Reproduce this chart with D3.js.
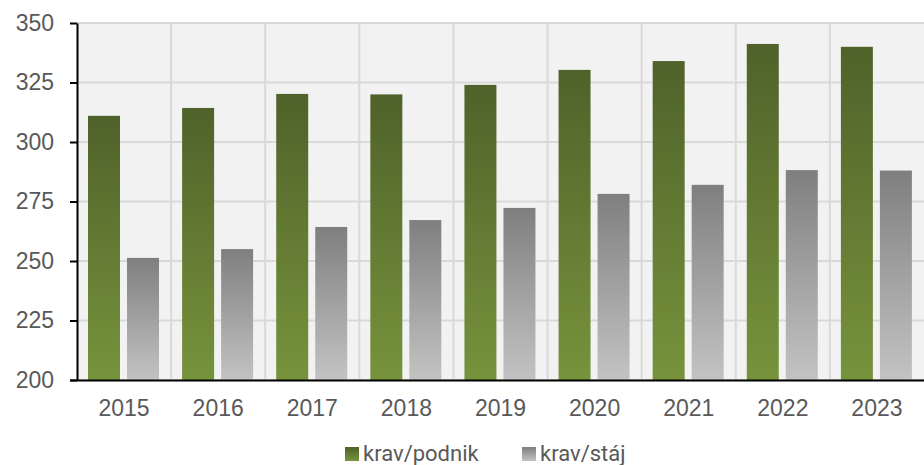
<!DOCTYPE html>
<html>
<head>
<meta charset="utf-8">
<script src="https://cdn.jsdelivr.net/npm/d3@7"></script>
<style>
  body { margin: 0; background: #fff; }
  svg { display: block; font-family: Roboto, "DejaVu Sans", sans-serif; }
</style>
</head>
<body>
<svg width="924" height="465"></svg>
<script>
var years = ["2015", "2016", "2017", "2018", "2019", "2020", "2021", "2022", "2023"];
var podnik = [311, 314.3, 320.2, 320, 324, 330.3, 334, 341.2, 340];
var staj = [251.3, 255, 264.3, 267.2, 272.3, 278.2, 282, 288.2, 288];
var seriesNames = ["krav/podnik", "krav/stáj"];
var yTicks = [200, 225, 250, 275, 300, 325, 350];

var svg = d3.select("svg"),
    margin = {top: 23, right: 0, bottom: 85, left: 77},
    width = +svg.attr("width") - margin.left - margin.right,
    height = +svg.attr("height") - margin.top - margin.bottom;

var defs = svg.append("defs");
function grad(id, top, bottom) {
  var g = defs.append("linearGradient").attr("id", id)
      .attr("x1", 0).attr("y1", 0).attr("x2", 0).attr("y2", 1);
  g.append("stop").attr("offset", "0%").attr("stop-color", top);
  g.append("stop").attr("offset", "100%").attr("stop-color", bottom);
}
grad("gGreen", "#4f622a", "#77933c");
grad("gGrey", "#7f7f7f", "#c3c3c3");

var x = d3.scaleBand().domain(years).range([0, width]);
var x1 = d3.scaleBand().domain(seriesNames).range([11, 82]).paddingInner(0.18);
var y = d3.scaleLinear().domain([200, 350]).range([height, 0]);

var g = svg.append("g").attr("transform", "translate(" + margin.left + "," + margin.top + ")");

g.append("rect").attr("width", width).attr("height", height).attr("fill", "#f2f2f2");

// grid
g.selectAll(".hgrid").data(yTicks).enter().append("line")
    .attr("x1", 0).attr("x2", width)
    .attr("y1", function(d) { return y(d); }).attr("y2", function(d) { return y(d); })
    .attr("stroke", "#d9d9d9").attr("stroke-width", 2);
g.selectAll(".vgrid").data(years.slice(1)).enter().append("line")
    .attr("x1", function(d) { return x(d); }).attr("x2", function(d) { return x(d); })
    .attr("y1", 0).attr("y2", height)
    .attr("stroke", "#d9d9d9").attr("stroke-width", 2);

var cat = g.selectAll(".cat").data(years).enter().append("g")
    .attr("transform", function(d) { return "translate(" + x(d) + ",0)"; });

cat.append("rect")
    .attr("x", x1(seriesNames[0])).attr("width", x1.bandwidth())
    .attr("y", function(d, i) { return y(podnik[i]); })
    .attr("height", function(d, i) { return height - y(podnik[i]); })
    .attr("fill", "url(#gGreen)");
cat.append("rect")
    .attr("x", x1(seriesNames[1])).attr("width", x1.bandwidth())
    .attr("y", function(d, i) { return y(staj[i]); })
    .attr("height", function(d, i) { return height - y(staj[i]); })
    .attr("fill", "url(#gGrey)");

// axes
var yAxis = g.append("g").call(d3.axisLeft(y).tickValues(yTicks).tickSize(7).tickPadding(16));
yAxis.select(".domain").attr("stroke", "#000").attr("stroke-width", 2).attr("d", "M0.5," + (height) + "V0.5");
yAxis.selectAll(".tick line").attr("stroke", "#000").attr("stroke-width", 2);
yAxis.selectAll("text").attr("fill", "#595959").style("font-size", "23px");

var xAxis = g.append("g").attr("transform", "translate(0," + height + ")")
    .call(d3.axisBottom(x).tickSize(0).tickPadding(20));
xAxis.select(".domain").attr("stroke", "#000").attr("stroke-width", 2).attr("d", "M-7,0.5H" + width);
xAxis.selectAll("text").attr("fill", "#595959").style("font-size", "23px");

// legend
var legend = svg.append("g").attr("transform", "translate(345,447)");
var li = legend.selectAll("g").data(seriesNames).enter().append("g")
    .attr("transform", function(d, i) { return "translate(" + (i * 177) + ",0)"; });
li.append("rect").attr("width", 14).attr("height", 14)
    .attr("fill", function(d, i) { return i === 0 ? "url(#gGreen)" : "url(#gGrey)"; });
li.append("text").attr("x", 18).attr("y", 14)
    .attr("fill", "#595959").style("font-size", "22px")
    .text(function(d) { return d; });
</script>
</body>
</html>
